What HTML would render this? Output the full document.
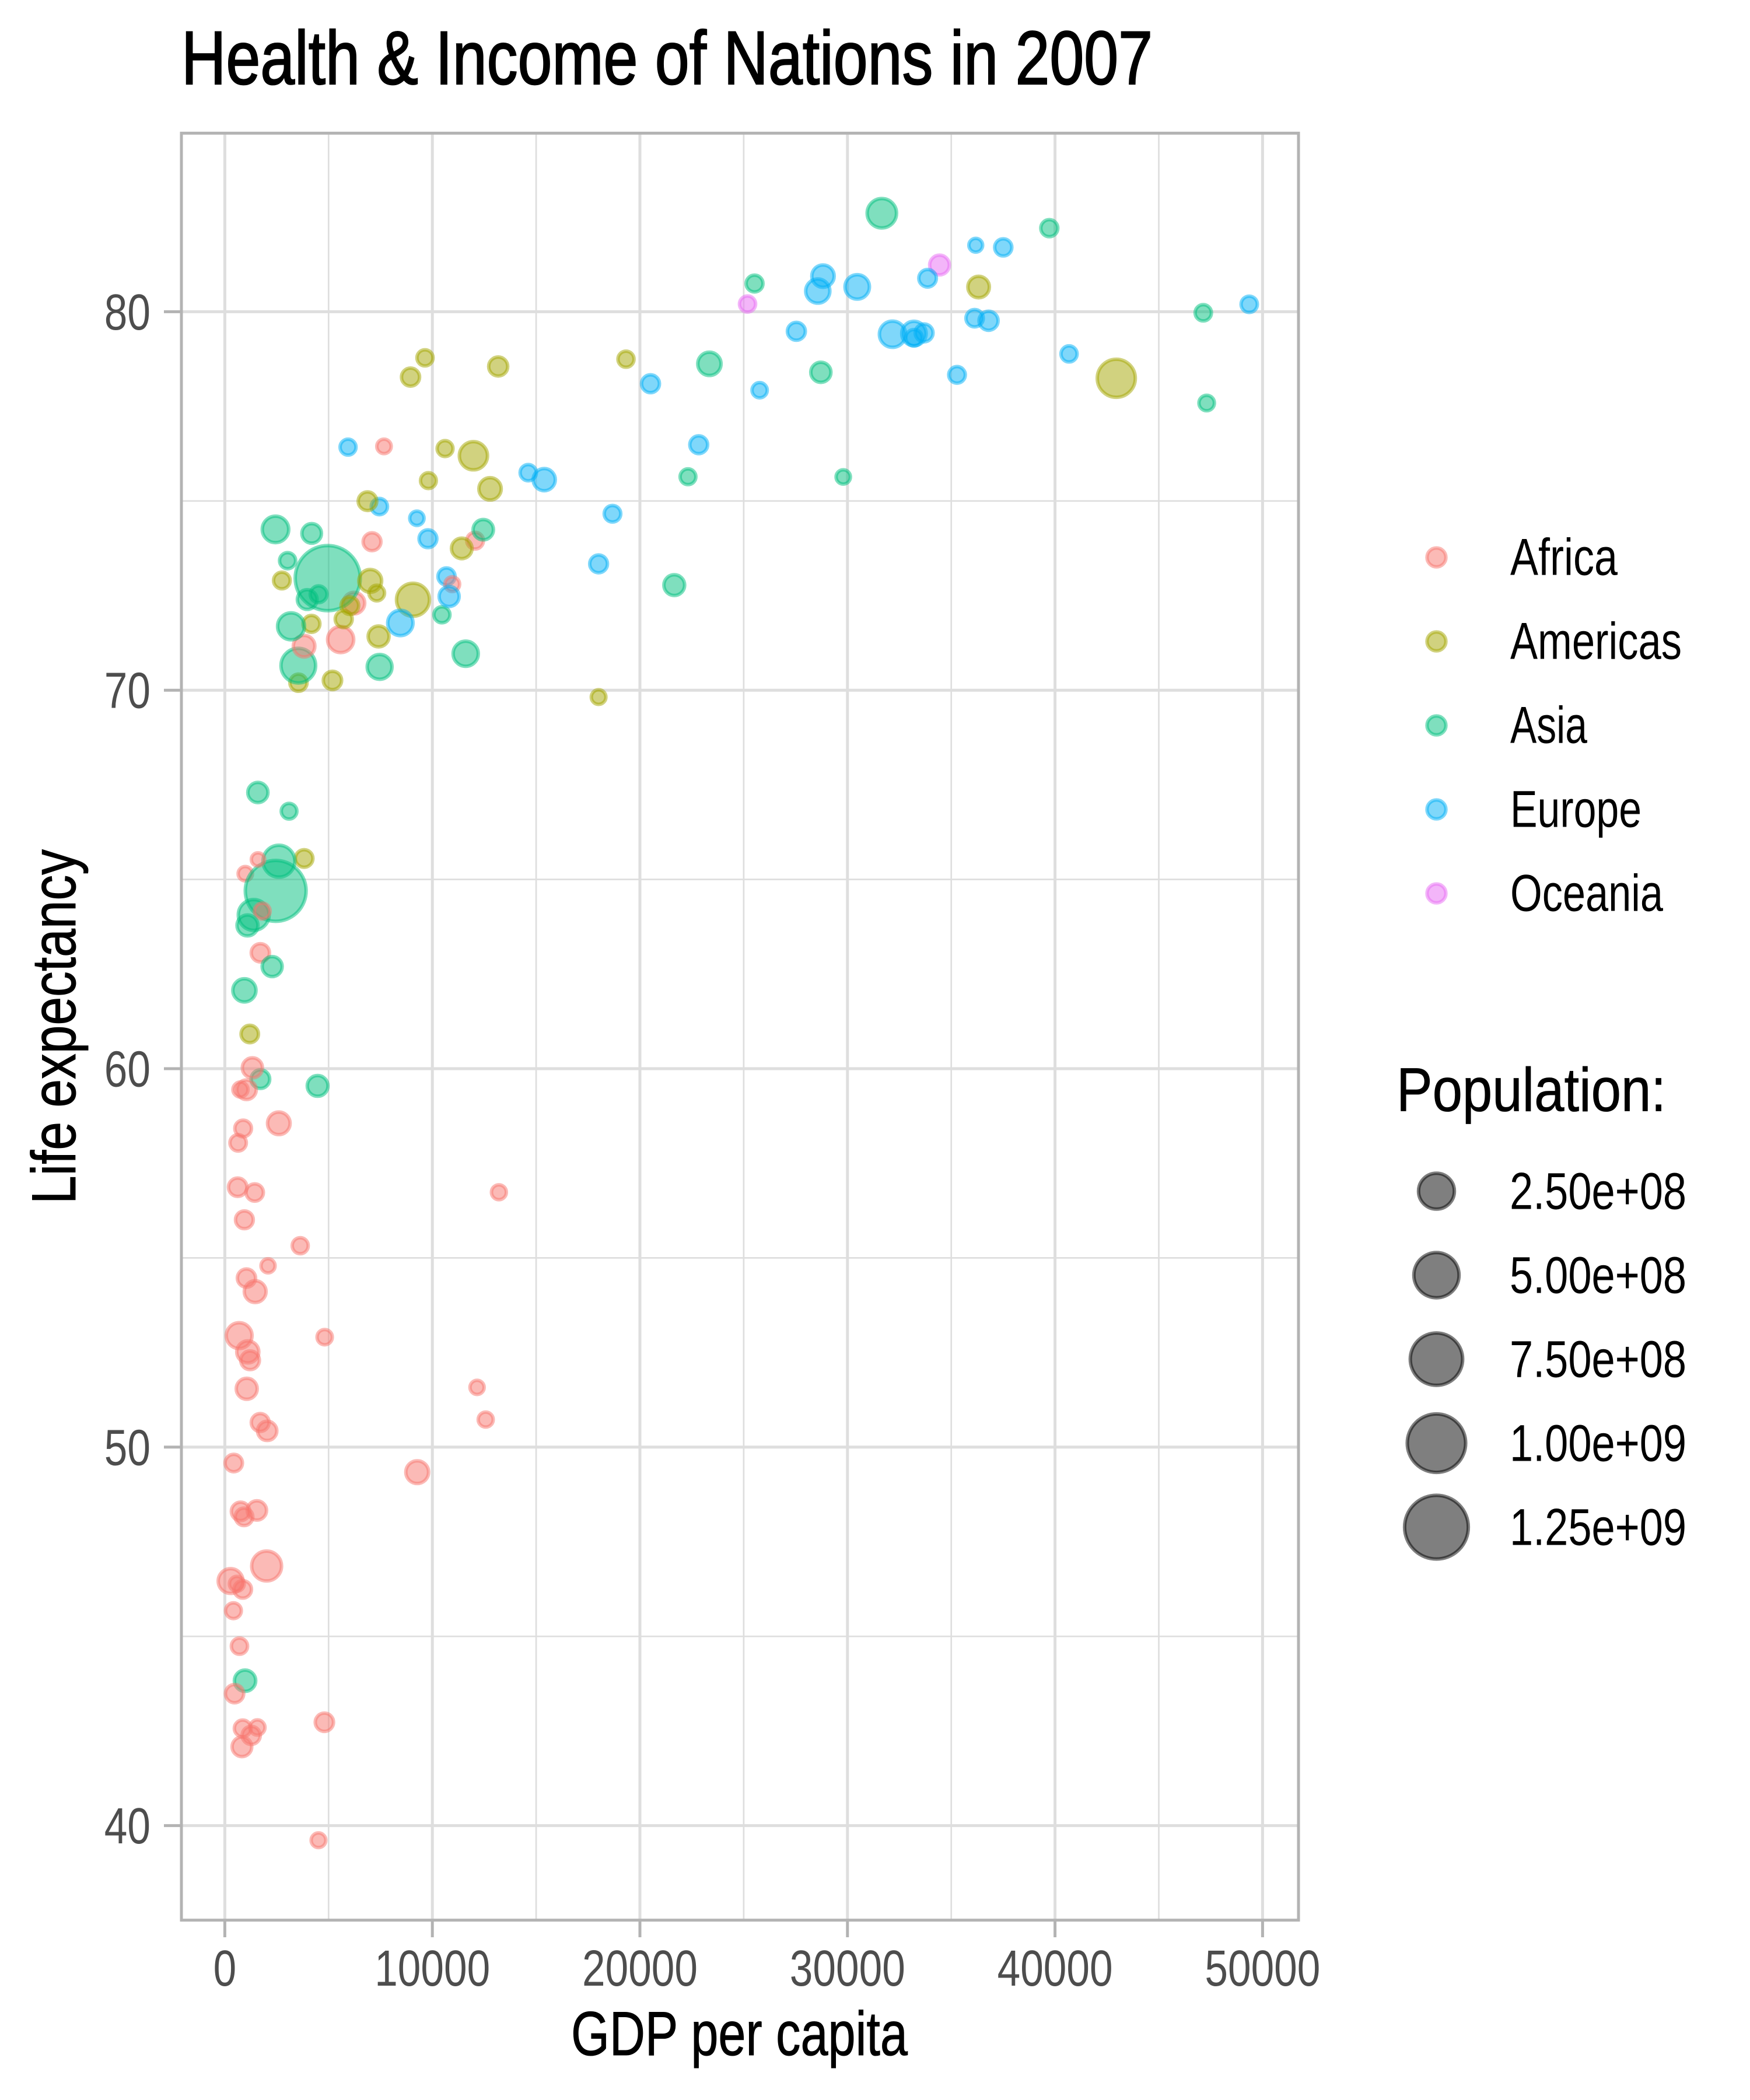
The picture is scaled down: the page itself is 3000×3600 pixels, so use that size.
<!DOCTYPE html>
<html lang="en">
<head>
<meta charset="utf-8">
<title>Health &amp; Income of Nations in 2007</title>
<style>
html,body{margin:0;padding:0;background:#fff;}
svg{display:block;}
text{font-family:"Liberation Sans Narrow","Liberation Sans",sans-serif;}
</style>
</head>
<body>
<svg id="chart" xmlns="http://www.w3.org/2000/svg" width="3000" height="3600" viewBox="0 0 3000 3600">
  <rect x="0" y="0" width="3000" height="3600" fill="#ffffff"/>
  <g id="grid"></g>
  <g id="points"></g>
  <rect x="311" y="228.3" width="1915" height="3063.4" fill="none" stroke="#b3b3b3" stroke-width="5"/>
  <g id="axes"></g>
  <text x="311" y="144" font-size="130" fill="#000" stroke="#000" stroke-width="2.2" textLength="1665" lengthAdjust="spacingAndGlyphs">Health &amp; Income of Nations in 2007</text>
  <text x="979" y="3523" font-size="107" fill="#000" stroke="#000" stroke-width="1" textLength="577" lengthAdjust="spacingAndGlyphs">GDP per capita</text>
  <text transform="translate(129,2064) rotate(-90)" x="0" y="0" font-size="107" fill="#000" stroke="#000" stroke-width="1" textLength="608" lengthAdjust="spacingAndGlyphs">Life expectancy</text>
  <g id="legend-color"></g>
  <text x="2394" y="1904.6" font-size="106" fill="#000" stroke="#000" stroke-width="0.8" textLength="462" lengthAdjust="spacingAndGlyphs">Population:</text>
  <g id="legend-size"></g>
</svg>
<script>
var countries = ["Afghanistan","Albania","Algeria","Angola","Argentina","Australia","Austria","Bahrain","Bangladesh","Belgium",
"Benin","Bolivia","Bosnia and Herzegovina","Botswana","Brazil","Bulgaria","Burkina Faso","Burundi","Cambodia","Cameroon",
"Canada","Central African Republic","Chad","Chile","China","Colombia","Comoros","Congo Dem Rep","Congo Rep","Costa Rica",
"Cote d'Ivoire","Croatia","Cuba","Czech Republic","Denmark","Djibouti","Dominican Republic","Ecuador","Egypt","El Salvador",
"Equatorial Guinea","Eritrea","Ethiopia","Finland","France","Gabon","Gambia","Germany","Ghana","Greece",
"Guatemala","Guinea","Guinea-Bissau","Haiti","Honduras","Hong Kong","Hungary","Iceland","India","Indonesia",
"Iran","Iraq","Ireland","Israel","Italy","Jamaica","Japan","Jordan","Kenya","Korea Dem Rep",
"Korea Rep","Kuwait","Lebanon","Lesotho","Liberia","Libya","Madagascar","Malawi","Malaysia","Mali",
"Mauritania","Mauritius","Mexico","Mongolia","Montenegro","Morocco","Mozambique","Myanmar","Namibia","Nepal",
"Netherlands","New Zealand","Nicaragua","Niger","Nigeria","Norway","Oman","Pakistan","Panama","Paraguay",
"Peru","Philippines","Poland","Portugal","Puerto Rico","Reunion","Romania","Rwanda","Sao Tome and Principe","Saudi Arabia",
"Senegal","Serbia","Sierra Leone","Singapore","Slovak Republic","Slovenia","Somalia","South Africa","Spain","Sri Lanka",
"Sudan","Swaziland","Sweden","Switzerland","Syria","Taiwan","Tanzania","Thailand","Togo","Trinidad and Tobago",
"Tunisia","Turkey","Uganda","United Kingdom","United States","Uruguay","Venezuela","Vietnam","West Bank and Gaza","Yemen",
"Zambia","Zimbabwe"];
var continentOf = ["Asia","Europe","Africa","Africa","Americas","Oceania","Europe","Asia","Asia","Europe",
"Africa","Americas","Europe","Africa","Americas","Europe","Africa","Africa","Asia","Africa",
"Americas","Africa","Africa","Americas","Asia","Americas","Africa","Africa","Africa","Americas",
"Africa","Europe","Americas","Europe","Europe","Africa","Americas","Americas","Africa","Americas",
"Africa","Africa","Africa","Europe","Europe","Africa","Africa","Europe","Africa","Europe",
"Americas","Africa","Africa","Americas","Americas","Asia","Europe","Europe","Asia","Asia",
"Asia","Asia","Europe","Asia","Europe","Americas","Asia","Asia","Africa","Asia",
"Asia","Asia","Asia","Africa","Africa","Africa","Africa","Africa","Asia","Africa",
"Africa","Africa","Americas","Asia","Europe","Africa","Africa","Asia","Africa","Asia",
"Europe","Oceania","Americas","Africa","Africa","Europe","Asia","Asia","Americas","Americas",
"Americas","Asia","Europe","Europe","Americas","Africa","Europe","Africa","Africa","Asia",
"Africa","Europe","Africa","Asia","Europe","Europe","Africa","Africa","Europe","Asia",
"Africa","Africa","Europe","Europe","Asia","Asia","Africa","Asia","Africa","Americas",
"Africa","Europe","Africa","Europe","Americas","Americas","Americas","Asia","Asia","Asia",
"Africa","Africa"];
var gdpPerCapita = [975,5937,6223,4797,12779,34435,36126,29796,1391,33693,
1441,3822,7446,12570,9066,10681,1217,430,1714,2042,
36319,706,1704,13172,4959,7007,986,278,3633,9645,
1545,14619,8948,22833,35278,2082,6025,6873,5581,5728,
12154,641,691,33207,30470,13206,753,32170,1328,27538,
5186,943,579,1202,3548,39725,18009,36181,2452,3541,
11606,4471,40676,25523,28570,7321,31656,4519,1463,1593,
23348,47307,10461,1569,415,12058,1045,759,12452,1043,
1803,10957,11978,3096,9254,3820,824,944,4811,1091,
36798,25185,2749,620,2014,49357,22316,2606,9809,4173,
7409,3190,15390,20510,19329,7670,10808,863,1598,21655,
1712,9787,863,47143,18678,25768,926,9270,28821,3970,
2602,4513,33860,37506,4185,28718,1107,7458,883,18009,
7093,8458,1056,33203,42952,10611,11416,2442,3025,2281,
1271,470];
var lifeExpectancy = [43.828,76.423,72.301,42.731,75.32,81.235,79.829,75.635,64.062,79.441,
56.728,65.554,74.852,50.728,72.39,73.005,52.295,49.58,59.723,50.43,
80.653,44.741,50.651,78.553,72.961,72.889,65.152,46.462,55.322,78.782,
48.328,75.748,78.273,76.486,78.332,54.791,72.235,74.994,71.338,71.878,
51.579,58.04,52.947,79.313,80.657,56.735,59.448,79.406,60.022,79.483,
70.259,56.007,46.388,60.916,70.198,82.208,73.338,81.757,64.698,70.65,
70.964,59.545,78.885,80.745,80.546,72.567,82.603,72.535,54.11,67.297,
78.623,77.588,71.993,42.592,45.678,73.952,59.443,48.303,74.241,54.467,
64.164,72.801,76.195,66.803,74.543,71.164,42.082,62.069,52.906,63.785,
79.762,80.204,72.899,56.867,46.859,80.196,75.64,65.483,75.537,71.752,
71.421,71.688,75.563,78.098,78.746,76.442,72.476,46.242,65.528,72.777,
63.062,74.002,42.568,79.972,74.663,77.926,48.159,49.339,80.941,72.396,
58.556,39.613,80.884,81.701,74.143,78.4,52.517,70.616,58.42,69.819,
73.923,71.777,51.542,79.425,78.242,76.384,73.747,74.249,73.422,62.698,
42.384,43.487];
var population = [31889923,3600523,33333216,12420476,40301927,20434176,8199783,708573,150448339,10392226,
8078314,9119152,4552198,1639131,190010647,7322858,14326203,8390505,14131858,17696293,
33390141,4369038,10238807,16284741,1318683096,44227550,710960,64606759,3800610,4133884,
18013409,4493312,11416987,10228744,5468120,496374,9319622,13755680,80264543,6939688,
551201,4906585,76511887,5238460,61083916,1454867,1688359,82400996,22873338,10706290,
12572928,9947814,1472041,8502814,7483763,6980412,9956108,301931,1110396331,223547000,
69453570,27499638,4109086,6426679,58147733,2780132,127467972,6053193,35610177,23301725,
49044790,2505559,3921278,2012649,3193942,6036914,19167654,13327079,24821286,12031795,
3270065,1250882,108700891,2874127,684736,33757175,19951656,47761980,2055080,28901790,
16570613,4115771,5675356,12894865,135031164,4627926,3204897,169270617,3242173,6667147,
28674757,91077287,38518241,10642836,3942491,798094,22276056,8860588,199579,27601038,
12267493,10150265,6144562,4553009,5447502,2009245,9118773,43997828,40448191,20378239,
42292929,1133066,9031088,7554661,19314747,23174294,38139640,65068149,5701579,1056608,
10276158,71158647,29170398,60776238,301139947,3447496,26084662,85262356,4018332,22211743,
11746035,12311143];
var continentNames = ["Africa","Americas","Asia","Europe","Oceania"];
var continentColors = ["#F8766D","#A3A500","#00BF7D","#00B0F6","#E76BF3"];
var xMajorTicks = [0,10000,20000,30000,40000,50000];
var xMinorTicks = [5000,15000,25000,35000,45000];
var yMajorTicks = [40,50,60,70,80];
var yMinorTicks = [45,55,65,75];
var sizeBreaks = [250000000,500000000,750000000,1000000000,1250000000];
var sizeLabels = ["2.50e+08","5.00e+08","7.50e+08","1.00e+09","1.25e+09"];

var NS = "http://www.w3.org/2000/svg";
var PANEL = {left:311, right:2226, top:228.3, bottom:3291.7};
var STROKE_W = 6;
function xScale(v){ return 385.4 + v * 0.03558; }
function yScale(v){ return 3129.6 - (v - 40) * 64.88; }
function rScale(p){
  var lo = Math.min.apply(null, population), hi = Math.max.apply(null, population);
  return 14.4 + 44.4 * Math.sqrt((p - lo) / (hi - lo)) - STROKE_W / 2;
}
function slug(s){ return s.toLowerCase().replace(/[^a-z0-9]+/g, "-"); }
function line(parent, x1, y1, x2, y2, color, w){
  var el = document.createElementNS(NS, "line");
  el.setAttribute("x1", x1);
  el.setAttribute("y1", y1);
  el.setAttribute("x2", x2);
  el.setAttribute("y2", y2);
  el.setAttribute("stroke", color);
  el.setAttribute("stroke-width", w);
  parent.appendChild(el);
  return el;
}
function label(parent, str, x, y, size, color, anchor, len){
  var el = document.createElementNS(NS, "text");
  el.textContent = str;
  el.setAttribute("x", x);
  el.setAttribute("y", y);
  el.setAttribute("font-size", size);
  el.setAttribute("fill", color);
  el.setAttribute("text-anchor", anchor);
  el.setAttribute("textLength", len);
  el.setAttribute("lengthAdjust", "spacingAndGlyphs");
  parent.appendChild(el);
  return el;
}
function dot(parent, cx, cy, r, color){
  var el = document.createElementNS(NS, "circle");
  el.setAttribute("cx", cx);
  el.setAttribute("cy", cy);
  el.setAttribute("r", r);
  el.setAttribute("fill", color);
  el.setAttribute("fill-opacity", "0.5");
  el.setAttribute("stroke", color);
  el.setAttribute("stroke-opacity", "0.5");
  el.setAttribute("stroke-width", STROKE_W);
  parent.appendChild(el);
  return el;
}

var grid = document.getElementById("grid");
var axes = document.getElementById("axes");
var pts = document.getElementById("points");
var legendColor = document.getElementById("legend-color");
var legendSize = document.getElementById("legend-size");

xMinorTicks.forEach(function(v){
  var el = line(grid, xScale(v), PANEL.top, xScale(v), PANEL.bottom, "#dedede", 2.7);
  
  
});
yMinorTicks.forEach(function(v){
  var el = line(grid, PANEL.left, yScale(v), PANEL.right, yScale(v), "#dedede", 2.7);
  
  
});
xMajorTicks.forEach(function(v){
  var el = line(grid, xScale(v), PANEL.top, xScale(v), PANEL.bottom, "#dedede", 5);
  
  
  var t = line(axes, xScale(v), PANEL.bottom, xScale(v), 3321, "#b3b3b3", 5);
  
  
  var s = String(v);
  var l = label(axes, s, xScale(v), 3404, 87, "#4d4d4d", "middle", s.length * 39.6);
  
  
});
yMajorTicks.forEach(function(v){
  var el = line(grid, PANEL.left, yScale(v), PANEL.right, yScale(v), "#dedede", 5);
  
  
  var t = line(axes, 281, yScale(v), PANEL.left, yScale(v), "#b3b3b3", 5);
  
  
  var s = String(v);
  var l = label(axes, s, 258, yScale(v) + 30.5, 87, "#4d4d4d", "end", s.length * 39.6);
  
  
});

countries.forEach(function(name, i){
  var color = continentColors[continentNames.indexOf(continentOf[i])];
  var c = dot(pts, xScale(gdpPerCapita[i]), yScale(lifeExpectancy[i]), rScale(population[i]), color);
  
  
});

var legendLabelWidths = [184, 294, 132, 225, 262];
continentNames.forEach(function(name, i){
  var cy = 955.6 + i * 144;
  var m = dot(legendColor, 2462.5, cy, 16.2, continentColors[i]);
  
  
  var l = label(legendColor, name, 2589, cy + 30, 89, "#000", "start", legendLabelWidths[i]);
  
  
});

sizeBreaks.forEach(function(p, i){
  var cy = 2042 + i * 144;
  var m = dot(legendSize, 2462.5, cy, rScale(p), "#000000");
  
  
  var l = label(legendSize, sizeLabels[i], 2588, cy + 30.7, 89, "#000", "start", 303);
  
  
});
</script>
</body>
</html>
